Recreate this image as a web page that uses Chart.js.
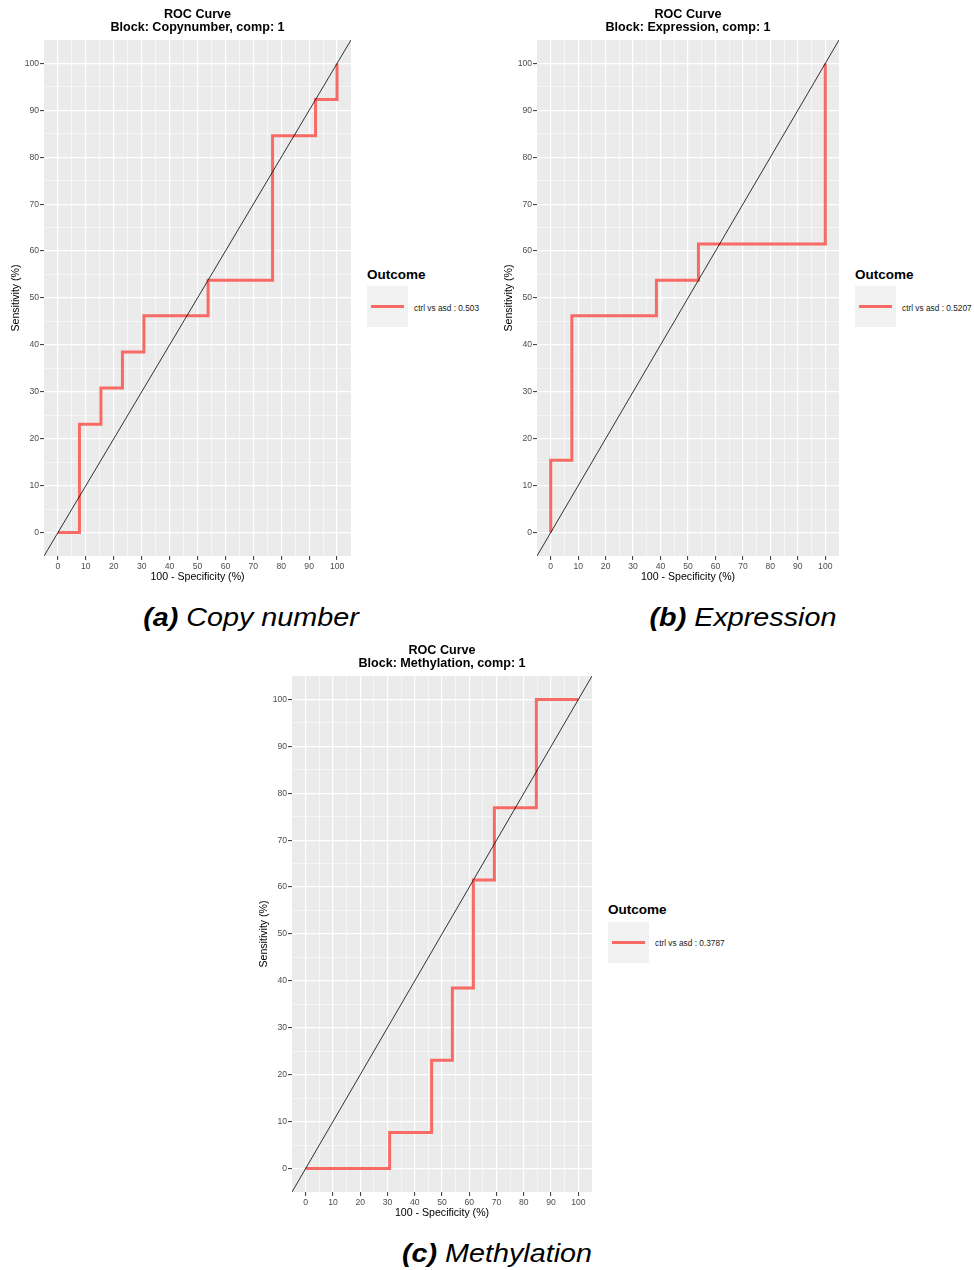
<!DOCTYPE html>
<html>
<head>
<meta charset="utf-8">
<script src="https://cdn.jsdelivr.net/npm/chart.js@4.4.1/dist/chart.umd.min.js"></script>
<style>
  body {
    margin: 0;
    background: #fff;
    width: 974px;
    height: 1270px;
    position: relative;
    overflow: hidden;
    font-family: "Liberation Sans", Arial, sans-serif;
  }
  .panel { position: absolute; }
  .legend-title {
    position: absolute;
    font-weight: bold;
    font-size: 13.5px;
    line-height: 16px;
    color: #000;
  }
  .key {
    position: absolute;
    width: 41px;
    height: 41px;
    background: #F2F2F2;
  }
  .key span {
    position: absolute;
    left: 4px;
    width: 33px;
    top: 19px;
    height: 3px;
    background: #F86A64;
  }
  .legend-label {
    position: absolute;
    font-size: 8.3px;
    line-height: 10px;
    color: #1a1a1a;
    white-space: nowrap;
  }
  .caption {
    position: absolute;
    width: 400px;
    text-align: center;
    font-size: 25px;
    line-height: 30px;
    font-style: italic;
    color: #000;
    transform: scaleX(1.15);
    transform-origin: center;
  }
</style>
</head>
<body>

<div class="panel" style="left:0px; top:0px;"><canvas id="rocCopy" width="360" height="590"></canvas></div>
<div class="panel" style="left:493px; top:0px;"><canvas id="rocExpr" width="360" height="590"></canvas></div>
<div class="panel" style="left:248px; top:636px;"><canvas id="rocMeth" width="360" height="590"></canvas></div>

<div class="legend-title" style="left:367px; top:267px;">Outcome</div>
<div class="key" style="left:367px; top:286px;"><span></span></div>
<div class="legend-label" id="labCopy" style="left:414px; top:303px;"></div>

<div class="legend-title" style="left:855px; top:267px;">Outcome</div>
<div class="key" style="left:855px; top:286px;"><span></span></div>
<div class="legend-label" id="labExpr" style="left:902px; top:303px;"></div>

<div class="legend-title" style="left:608px; top:902px;">Outcome</div>
<div class="key" style="left:608px; top:922px;"><span></span></div>
<div class="legend-label" id="labMeth" style="left:655px; top:938px;"></div>

<div class="caption" style="left:51px; top:602px;"><b>(a)</b> Copy number</div>
<div class="caption" style="left:543px; top:602px;"><b>(b)</b> Expression</div>
<div class="caption" style="left:297px; top:1238px;"><b>(c)</b> Methylation</div>

<script>
// 100 - specificity (x) and sensitivity (y), in %
const copyFpr = [0, 7.7, 7.7, 15.4, 15.4, 23.1, 23.1, 30.8, 30.8, 53.8, 53.8, 76.9, 76.9, 92.3, 92.3, 100, 100];
const copyTpr = [0, 0, 23.1, 23.1, 30.8, 30.8, 38.5, 38.5, 46.2, 46.2, 53.8, 53.8, 84.6, 84.6, 92.3, 92.3, 100];

const exprFpr = [0, 0, 7.7, 7.7, 38.5, 38.5, 53.8, 53.8, 100, 100];
const exprTpr = [0, 15.4, 15.4, 46.2, 46.2, 53.8, 53.8, 61.5, 61.5, 100];

const methFpr = [0, 30.8, 30.8, 46.2, 46.2, 53.8, 53.8, 61.5, 61.5, 69.2, 69.2, 84.6, 84.6, 100];
const methTpr = [0, 0, 7.7, 7.7, 23.1, 23.1, 38.5, 38.5, 61.5, 61.5, 76.9, 76.9, 100, 100];

const blockNames = ["Copynumber", "Expression", "Methylation"];
const aucLabels = ["ctrl vs asd : 0.503", "ctrl vs asd : 0.5207", "ctrl vs asd : 0.3787"];

// axis runs a bit past 0..100, like ggplot's default expansion
const axisMin = -5;
const axisMax = 105;
const refLine = [axisMin, axisMax]; // y = x chance line

const FONT = "'Liberation Sans', Arial, sans-serif";

const panelBg = {
  id: "panelBg",
  beforeDraw(chart) {
    const { ctx, chartArea } = chart;
    ctx.save();
    ctx.fillStyle = "#EBEBEB";
    ctx.fillRect(chartArea.left, chartArea.top, chartArea.width, chartArea.height);
    ctx.restore();
  },
};

// title centred over the plot panel, not the canvas
const rocTitle = {
  id: "rocTitle",
  afterDraw(chart, args, opts) {
    const { ctx, chartArea } = chart;
    const cx = (chartArea.left + chartArea.right) / 2;
    ctx.save();
    ctx.font = "bold 12.6px " + FONT;
    ctx.fillStyle = "#000";
    ctx.textAlign = "center";
    ctx.textBaseline = "middle";
    ctx.fillText("ROC Curve", cx, 15);
    ctx.fillText("Block: " + opts.block + ", comp: 1", cx, 28);
    ctx.restore();
  },
};

const isMajor = (v) => v % 10 === 0;
const inRange = (v) => v > axisMin && v < axisMax;

const makeAxis = (titleText, titlePad) => ({
  type: "linear",
  min: axisMin,
  max: axisMax,
  border: { display: false },
  grid: {
    color: (c) => (c.tick && inRange(c.tick.value) ? "#FFFFFF" : "rgba(0,0,0,0)"),
    lineWidth: (c) => (c.tick && isMajor(c.tick.value) ? 1.2 : 0.55),
    tickColor: (c) => (c.tick && isMajor(c.tick.value) && inRange(c.tick.value) ? "#333333" : "rgba(0,0,0,0)"),
    tickWidth: 1,
    tickLength: 4,
    drawTicks: true,
  },
  ticks: {
    stepSize: 5,
    autoSkip: false,
    maxRotation: 0,
    padding: 1,
    color: "#4D4D4D",
    font: { size: 8.6, family: FONT },
    callback: (v) => (isMajor(v) ? v : ""),
  },
  title: {
    display: true,
    text: titleText,
    color: "#000",
    font: { size: 10.6, family: FONT },
    padding: titlePad,
  },
});

const drawRoc = (canvasId, fpr, tpr, block, padRight) => {
  const xAxis = makeAxis("100 - Specificity (%)", { top: 0, bottom: 7 });
  xAxis.afterFit = (s) => { s.height = 34; };
  const yAxis = makeAxis("Sensitivity (%)", { top: 10, bottom: 0 });
  yAxis.afterFit = (s) => { s.width = 44; };

  return new Chart(document.getElementById(canvasId), {
    type: "scatter",
    data: {
      datasets: [
        {
          // chance line, drawn on top
          data: refLine.map((v) => ({ x: v, y: v })),
          borderColor: "#000",
          borderWidth: 0.8,
          pointRadius: 0,
          showLine: true,
          clip: 0,
        },
        {
          data: fpr.map((x, i) => ({ x: x, y: tpr[i] })),
          borderColor: "#F86A64",
          borderWidth: 3,
          pointRadius: 0,
          showLine: true,
          clip: 0,
        },
      ],
    },
    options: {
      responsive: false,
      animation: false,
      layout: { padding: { top: 40, right: padRight, left: 0, bottom: 0 } },
      scales: { x: xAxis, y: yAxis },
      plugins: {
        legend: { display: false },
        tooltip: { enabled: false },
        rocTitle: { block: block },
      },
    },
    plugins: [panelBg, rocTitle],
  });
};

drawRoc("rocCopy", copyFpr, copyTpr, blockNames[0], 9);
drawRoc("rocExpr", exprFpr, exprTpr, blockNames[1], 14);
drawRoc("rocMeth", methFpr, methTpr, blockNames[2], 16);

document.getElementById("labCopy").textContent = aucLabels[0];
document.getElementById("labExpr").textContent = aucLabels[1];
document.getElementById("labMeth").textContent = aucLabels[2];
</script>
</body>
</html>
